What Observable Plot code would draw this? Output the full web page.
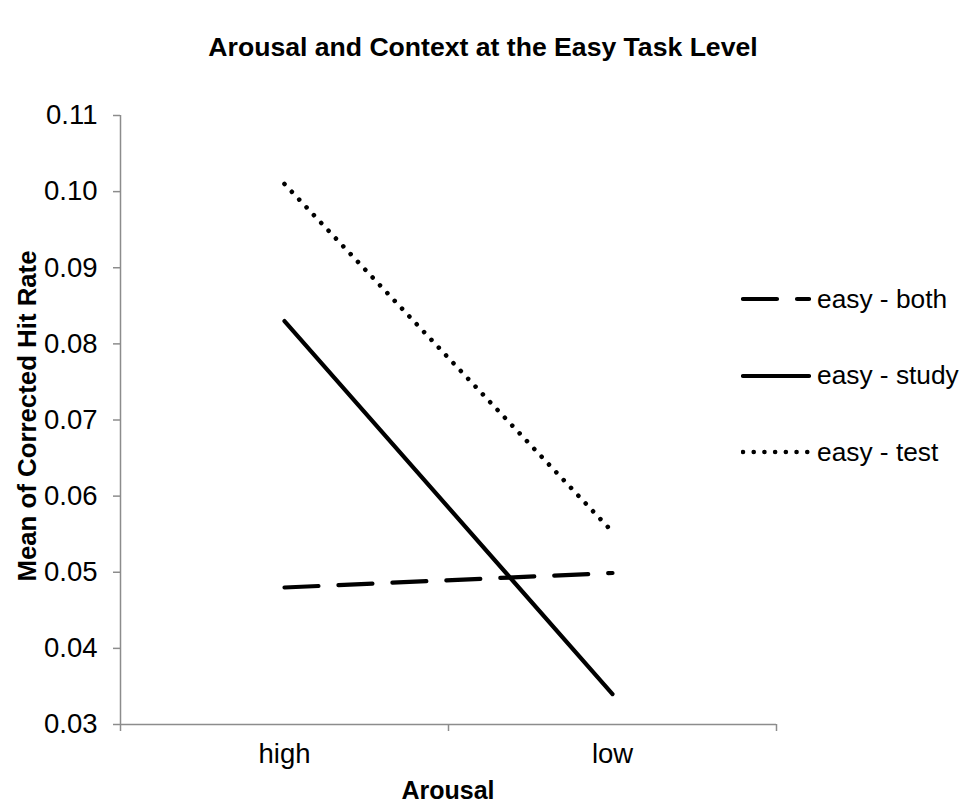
<!DOCTYPE html>
<html>
<head>
<meta charset="utf-8">
<script src="https://cdn.jsdelivr.net/npm/d3@7"></script>
<script src="https://cdn.jsdelivr.net/npm/@observablehq/plot@0.6"></script>
<style>
  html, body { margin: 0; padding: 0; background: #fff; }
  #wrap { position: relative; width: 966px; height: 810px; font-family: "Liberation Sans", Arial, sans-serif; color: #000; }
  #chart { position: absolute; left: 0; top: 0; }
  .title { position: absolute; left: 0; width: 966px; top: 32px; text-align: center; font-weight: bold; font-size: 26.6px; }
  .xlabel { position: absolute; left: 120px; width: 656px; top: 776px; text-align: center; font-weight: bold; font-size: 25px; }
  .ylabel { position: absolute; left: 27px; top: 416px; transform: translate(-50%, -50%) rotate(-90deg); white-space: nowrap; font-weight: bold; font-size: 25.8px; }
  .legend { position: absolute; left: 741px; top: 283px; }
  .legend .row { display: flex; align-items: center; height: 32px; margin-bottom: 44.5px; font-size: 26.3px; }
  .legend svg { display: block; margin-right: 6px; }
</style>
</head>
<body>
<div id="wrap">
  <div id="chart"></div>
  <div class="title">Arousal and Context at the Easy Task Level</div>
  <div class="xlabel">Arousal</div>
  <div class="ylabel">Mean of Corrected Hit Rate</div>
  <div class="legend" id="legend"></div>
</div>
<script>
// Data
const categories = ["high", "low"];
const seriesNames = ["easy - both", "easy - study", "easy - test"];
const easyBoth  = [0.0480, 0.0499];
const easyStudy = [0.0830, 0.0340];
const easyTest  = [0.1010, 0.0553];
const yTicks = [0.03, 0.04, 0.05, 0.06, 0.07, 0.08, 0.09, 0.10, 0.11];

const seriesValues = [easyBoth, easyStudy, easyTest];
const styles = {
  "easy - both":  {strokeWidth: 4.2, strokeDasharray: "34,20", strokeLinecap: "round"},
  "easy - study": {strokeWidth: 4.2, strokeDasharray: null, strokeLinecap: "round"},
  "easy - test":  {strokeWidth: 4.6, strokeDasharray: "0.01,10.7", strokeLinecap: "round"}
};

const rows = [];
seriesNames.forEach((s, si) => {
  categories.forEach((c, ci) => rows.push({series: s, arousal: c, value: seriesValues[si][ci]}));
});

const xPos = d => categories.indexOf(d.arousal) + 0.5;
const boundaries = d3.range(categories.length + 1);

const marks = [
  Plot.ruleY([0.03], {stroke: "#8c8c8c", strokeWidth: 1.5}),
  Plot.ruleX([0], {stroke: "#8c8c8c", strokeWidth: 1.5}),
  Plot.axisY({ticks: yTicks, tickFormat: d3.format(".2f"), tickSize: 7, tickPadding: 16,
    stroke: "#8c8c8c", strokeWidth: 1.5, fill: "#000", fontSize: 27.5, label: null}),
  Plot.axisX({ticks: boundaries, tickFormat: () => "", tickSize: 7, stroke: "#8c8c8c", strokeWidth: 1.5, label: null}),
  Plot.axisX({ticks: categories.map((c, i) => i + 0.5), tickFormat: v => categories[v - 0.5], tickSize: 0,
    tickPadding: 19, fill: "#000", fontSize: 27.5, label: null})
];
seriesNames.forEach(s => {
  marks.push(Plot.line(rows.filter(r => r.series === s), {x: xPos, y: "value", stroke: "#000", ...styles[s]}));
});

const chart = Plot.plot({
  width: 966,
  height: 810,
  marginTop: 115,
  marginBottom: 86,
  marginLeft: 120,
  marginRight: 190,
  style: {fontFamily: "'Liberation Sans', Arial, sans-serif", background: "#fff", overflow: "visible"},
  x: {type: "linear", domain: [0, categories.length]},
  y: {domain: [0.03, 0.11]},
  marks
});
document.getElementById("chart").appendChild(chart);

// Legend
const legend = document.getElementById("legend");
seriesNames.forEach(s => {
  const st = styles[s];
  const row = document.createElement("div");
  row.className = "row";
  const svg = d3.create("svg").attr("width", 70).attr("height", 12);
  svg.append("line").attr("x1", 2).attr("x2", 68).attr("y1", 6).attr("y2", 6)
    .attr("stroke", "#000").attr("stroke-width", st.strokeWidth)
    .attr("stroke-linecap", st.strokeLinecap)
    .attr("stroke-dasharray", st.strokeDasharray);
  row.appendChild(svg.node());
  const span = document.createElement("span");
  span.textContent = s;
  row.appendChild(span);
  legend.appendChild(row);
});
</script>
</body>
</html>
